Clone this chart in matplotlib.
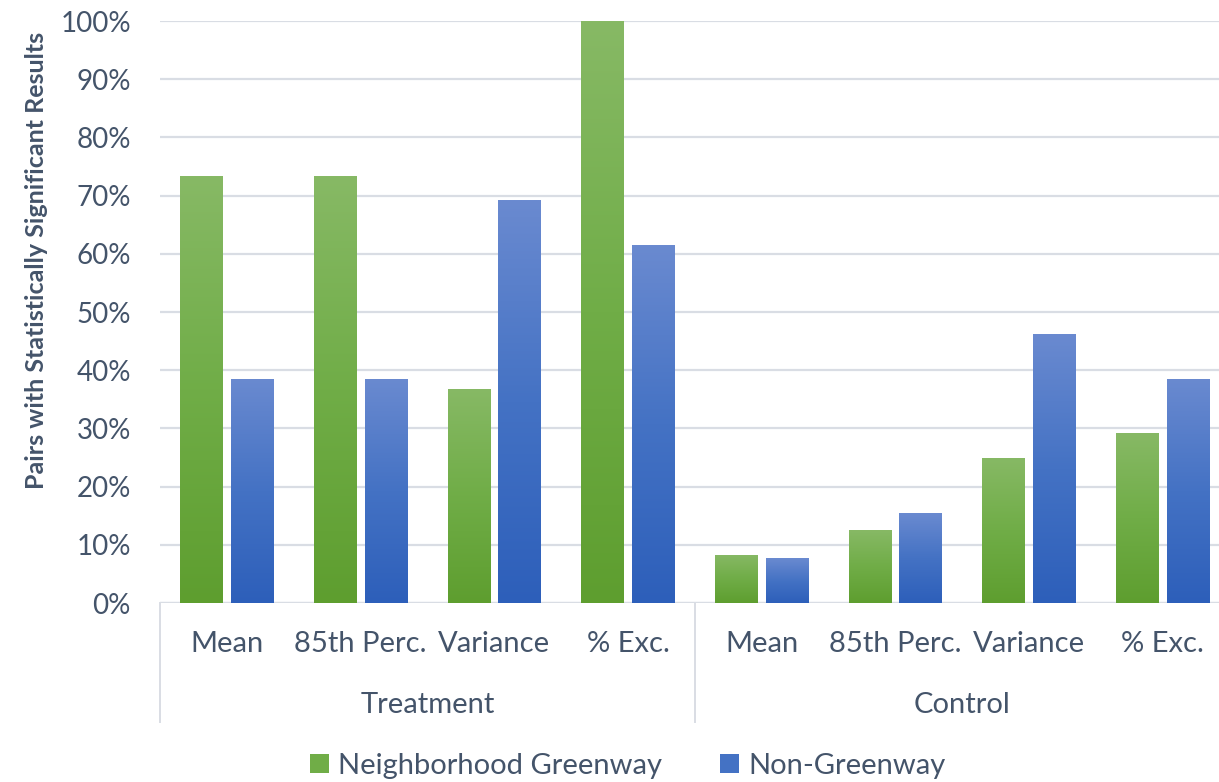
import numpy as np
import matplotlib
matplotlib.use("Agg")
import matplotlib.pyplot as plt
from matplotlib.colors import LinearSegmentedColormap
from matplotlib.patches import Patch
from matplotlib.transforms import blended_transform_factory

# share of pairs with statistically significant results, in percent
groups = ["Treatment", "Control"]
metrics = ["Mean", "85th Perc.", "Variance", "% Exc."]
greenway = [73.3, 73.3, 36.8, 100.0, 8.3, 12.5, 25.0, 29.2]
non_greenway = [38.5, 38.5, 69.2, 61.5, 7.7, 15.4, 46.2, 38.5]
series_names = ["Neighborhood Greenway", "Non-Greenway"]

TEXT = "#44546a"
GRID = "#d9dde4"
plt.rcParams["font.family"] = ["Lato", "DejaVu Sans"]

green_cmap = LinearSegmentedColormap.from_list(
    "g", ["#5e9e2f", "#70ad47", "#87b965"])
blue_cmap = LinearSegmentedColormap.from_list(
    "b", ["#2d5fba", "#4472c4", "#6a8ad0"])


def gradient_bars(ax, x, heights, width, cmap):
    bars = ax.bar(x, heights, width, color="none", edgecolor="none", zorder=3)
    grad = np.linspace(0, 1, 256).reshape(-1, 1)
    for bar in bars:
        x0, w, h = bar.get_x(), bar.get_width(), bar.get_height()
        im = ax.imshow(grad, cmap=cmap, aspect="auto", origin="lower",
                       extent=(x0, x0 + w, 0, h), zorder=3)
        im.set_clip_path(bar)
    return bars


fig = plt.figure(figsize=(12.19, 7.82), dpi=100)
ax = fig.add_axes([0.1313, 0.2289, 0.8687, 0.7442])

n = len(groups) * len(metrics)
x = np.arange(n)
width = 0.32
gradient_bars(ax, x - 0.19, greenway, width, green_cmap)
gradient_bars(ax, x + 0.19, non_greenway, width, blue_cmap)

ax.set_xlim(-0.5, 7.42)
ax.set_ylim(0, 100)
ax.set_yticks(np.arange(0, 101, 10))
ax.set_yticklabels([f"{v}%" for v in range(0, 101, 10)])
ax.yaxis.grid(True, color=GRID, linewidth=1.6, zorder=0)
ax.set_axisbelow(True)
ax.tick_params(axis="y", length=0, pad=21, labelsize=20, labelcolor=TEXT)
ax.set_xticks([])
for side in ["top", "right", "left", "bottom"]:
    ax.spines[side].set_visible(False)
ax.axhline(0, color=GRID, linewidth=1.6, zorder=2)

ax.set_ylabel("Pairs with Statistically Significant Results", fontsize=18,
              fontweight="bold", color=TEXT)
ax.yaxis.set_label_coords(-0.106, 0.588)

# two-tier category axis
trans = blended_transform_factory(ax.transData, ax.transAxes)
for i in range(n):
    ax.text(i, -0.07, metrics[i % len(metrics)], transform=trans,
            ha="center", va="center", fontsize=21, color=TEXT)
for g, name in enumerate(groups):
    mid = g * len(metrics) + (len(metrics) - 1) / 2
    ax.text(mid, -0.175, name, transform=trans,
            ha="center", va="center", fontsize=21, color=TEXT)
for edge in [-0.5, 3.5, 7.5]:
    ax.plot([edge, edge], [0, -0.2045], transform=trans, color=GRID,
            linewidth=1.4, clip_on=False)

handles = [Patch(facecolor="#70ad47", label=series_names[0]),
           Patch(facecolor="#4472c4", label=series_names[1])]
fig.legend(handles=handles, loc="center", bbox_to_anchor=(0.515, 0.021),
           ncol=2, frameon=False, fontsize=21, labelcolor=TEXT,
           handlelength=0.65, handleheight=0.65, handletextpad=0.3,
           columnspacing=2.0)

fig.savefig("out.png", dpi=100)
